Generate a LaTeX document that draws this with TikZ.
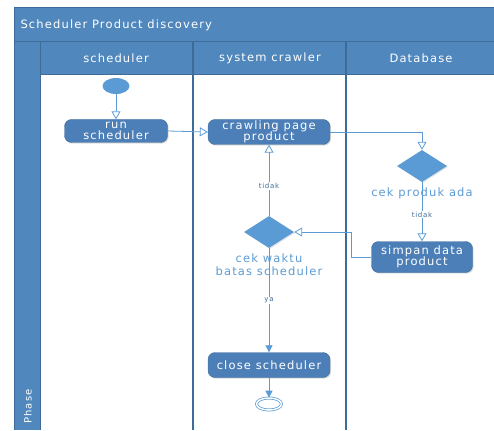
\documentclass[tikz,border=0pt]{standalone}
\usepackage{fontspec}
\setmainfont{DejaVu Sans}[LetterSpace=10]
\usetikzlibrary{shapes}
\usetikzlibrary{shadows}
\usetikzlibrary{arrows.meta}

\definecolor{lanebar}{RGB}{80,135,189}
\definecolor{laneline}{RGB}{62,108,152}
\definecolor{actfill}{RGB}{76,127,183}
\definecolor{flowline}{RGB}{91,155,213}

\tikzset{
	act/.style={rectangle, rounded corners=7pt, fill=actfill, draw=laneline, text=white, align=center,
		inner sep=1pt, font=\fontsize{11.5}{11.5}\selectfont,
		drop shadow={opacity=0.25, shadow xshift=1.2pt, shadow yshift=-1.2pt}},
	decide/.style={diamond, fill=flowline, inner sep=0pt, minimum width=50pt, minimum height=32pt,
		drop shadow={opacity=0.2, shadow xshift=1pt, shadow yshift=-1pt}},
	declbl/.style={text=flowline, align=center, font=\fontsize{11.5}{13}\selectfont},
	guard/.style={fill=white, inner sep=1pt, text=laneline, font=\fontsize{7}{8}\selectfont},
	flowopen/.style={draw=flowline, line width=0.8pt, -{Triangle[open, length=8pt, width=9pt]}},
	flowfill/.style={draw=flowline, line width=0.8pt, -{Triangle[length=7pt, width=7pt]}},
	hdr/.style={text=white, font=\fontsize{11.5}{13}\selectfont}
}

\begin{document}
\begin{tikzpicture}[x=1pt, y=-1pt]
		\useasboundingbox (0,0) rectangle (494,430);

		% Pool and lanes
		\fill[lanebar] (14,8) rectangle (494,42);
		\fill[lanebar] (14,42) rectangle (40,430);
		\fill[lanebar] (40,42) rectangle (494,75);
		\draw[laneline, line width=1pt] (14,430) -- (14,8) -- (494,8);
		\draw[laneline, line width=1pt] (14,42) -- (494,42);
		\draw[laneline, line width=1pt] (40,42) -- (40,430);
		\draw[laneline, line width=1pt] (40,75) -- (494,75);
		\draw[laneline, line width=1.5pt] (193,42) -- (193,430);
		\draw[laneline, line width=1.5pt] (346,42) -- (346,430);

		\node[hdr, anchor=west] (title) at (17,25) {Scheduler Product discovery};
		\node[hdr] (laneA) at (116,58) {scheduler};
		\node[hdr] (laneB) at (270,58) {system crawler};
		\node[hdr] (laneC) at (421,58) {Database};
		\node[hdr, rotate=90, anchor=west, font=\fontsize{10}{11}\selectfont] (phase) at (28,427) {Phase};

		% Nodes
		\node[ellipse, fill=flowline, minimum width=27pt, minimum height=16pt, inner sep=0pt] (start) at (116,86) {};
		\node[act, minimum width=103pt, minimum height=23pt] (run) at (116,131) {run\\scheduler};
		\node[act, minimum width=122pt, minimum height=25pt] (crawl) at (269,132) {crawling page\\product};
		\node[decide] (cekproduk) at (422,166) {};
		\node[declbl] (cekprodukLbl) at (422,193) {cek produk ada};
		\node[act, minimum width=101pt, minimum height=31pt] (simpan) at (422,257) {simpan data\\product};
		\node[decide] (cekwaktu) at (269,232) {};
		\node[declbl] (cekwaktuLbl) at (269,265) {cek waktu\\batas scheduler};
		\node[act, minimum width=122pt, minimum height=25pt] (close) at (269,365) {close scheduler};
		\node[ellipse, draw=flowline, double=white, double distance=1.5pt, line width=0.7pt,
			minimum width=25pt, minimum height=12pt, inner sep=0pt] (end) at (269,404) {};

		% Flows
		\draw[flowopen] (start) -- (run);
		\draw[flowopen] (run.east) -- (crawl.west);
		\draw[flowopen] (crawl.east) -| (cekproduk.north);
		\draw[flowopen] (cekproduk.south) -- node[guard, pos=0.55] {tidak} (simpan.north);
		\draw[flowopen] (simpan.west) -- ++(-20,0) |- (cekwaktu.east);
		\draw[flowopen] (cekwaktu.north) -- node[guard, pos=0.42] {tidak} (crawl.south);
		\draw[flowfill] (cekwaktu.south) -- node[guard, pos=0.5] {ya} (close.north);
		\draw[flowfill] (close.south) -- (end);
	\end{tikzpicture}
\end{document}
